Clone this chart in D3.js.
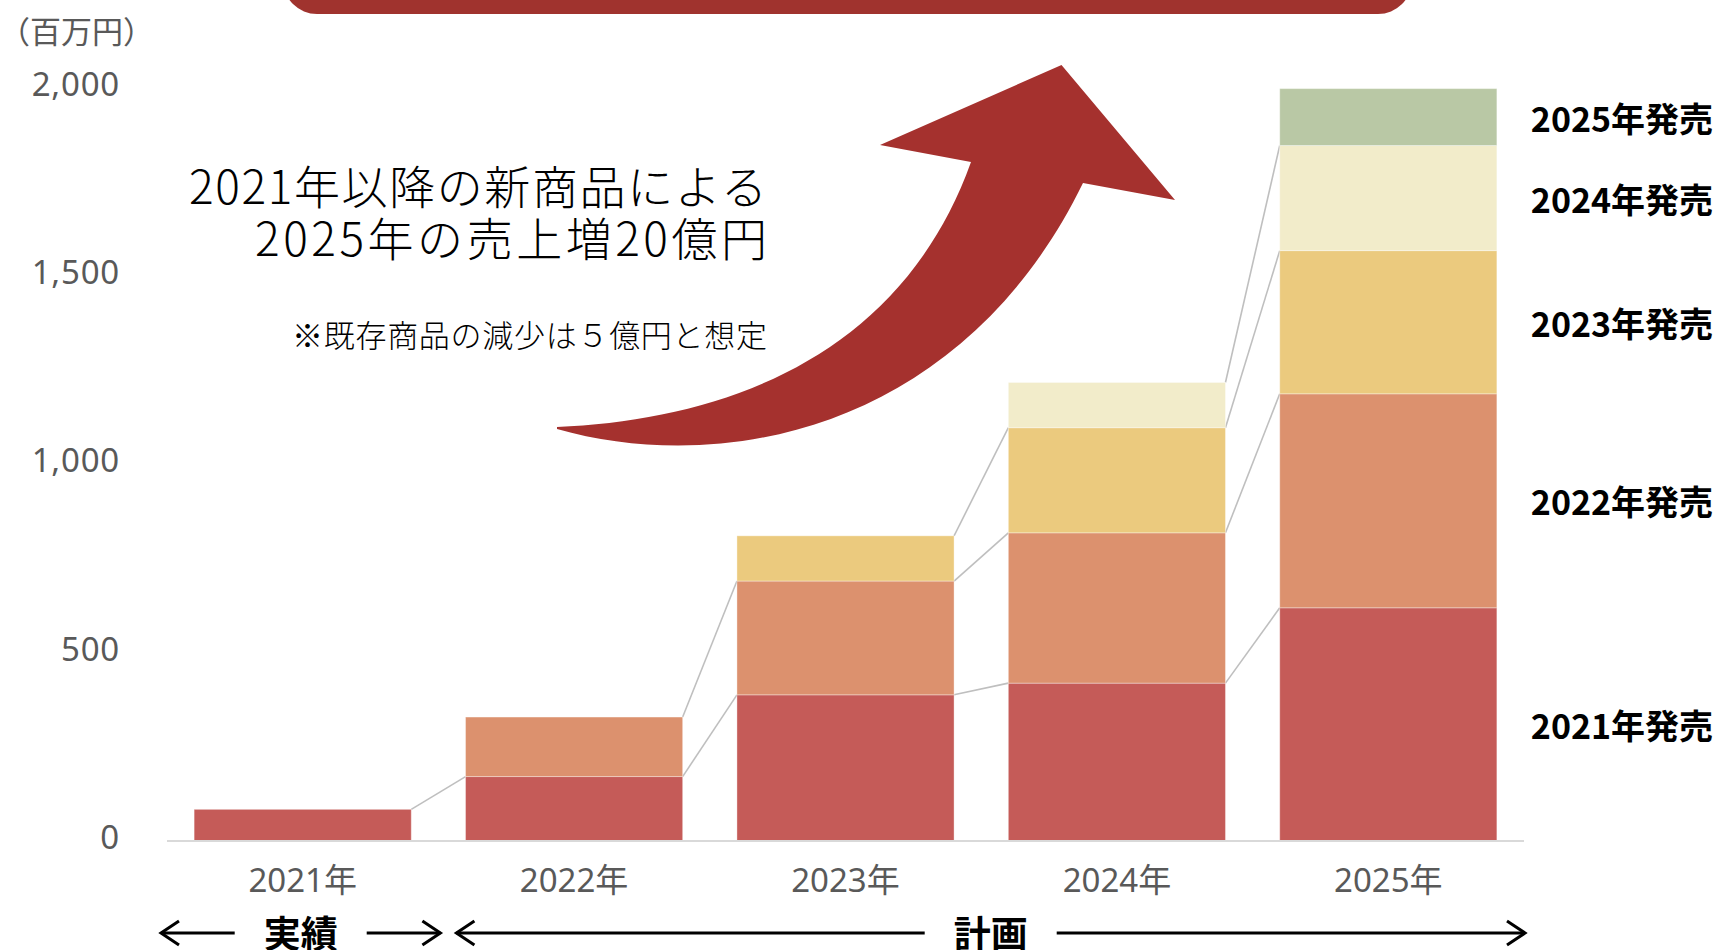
<!DOCTYPE html>
<html>
	<head>
		<meta charset="utf-8">
		<title>新商品売上計画</title>
		<style>
			body, html { margin: 0; padding: 0; background: #fff; }
			svg { display: block; }
		</style>
	</head>
	<body>

		<svg id="svg" width="1716" height="950"></svg>

		<script src="https://cdn.jsdelivr.net/npm/d3@7"></script>
		<script>
			// Data (百万円)
			const years = ['2021年', '2022年', '2023年', '2024年', '2025年']
			const seriesNames = ['2021年発売', '2022年発売', '2023年発売', '2024年発売', '2025年発売']
			const launch2021 = [84, 171, 388, 419, 619]
			const launch2022 = [0, 158, 302, 399, 568]
			const launch2023 = [0, 0, 120, 279, 380]
			const launch2024 = [0, 0, 0, 120, 279]
			const launch2025 = [0, 0, 0, 0, 151]
			const yTicks = [0, 500, 1000, 1500, 2000]
			const colors = ['#C55B58', '#DC916E', '#EBCA7E', '#F2ECCA', '#B9C8A5']

			const seriesValues = [launch2021, launch2022, launch2023, launch2024, launch2025]

			// rows for d3.stack
			const rows = years.map((year, i) => {
				const row = { year }
				seriesNames.forEach((s, k) => { row[s] = seriesValues[k][i] })
				return row
			})

			const svg = d3.select('#svg')
			const fontNum = '"Noto Sans", "Noto Sans CJK JP", sans-serif'
			const fontJp = '"Noto Sans CJK JP", "Noto Sans", sans-serif'

			// Scales
			const x = d3.scaleBand()
				.domain(years)
				.range([167, 1524])
				.paddingInner(0.2)
				.paddingOuter(0.1)

			const y = d3.scaleLinear()
				.domain([0, 2000])
				.range([841, 87.5])

			const stacked = d3.stack().keys(seriesNames)(rows)

			// top banner (cut off at top of the page)
			svg.append('rect')
				.attr('x', 283)
				.attr('y', -60)
				.attr('width', 1129)
				.attr('height', 74)
				.attr('rx', 34)
				.attr('fill', '#A0332E')

			// connector lines between bars
			const connectors = []
			stacked.forEach(layer => {
				for (let i = 0; i < years.length - 1; i++) {
					const a = layer[i], b = layer[i + 1]
					if (a[1] - a[0] > 0 && b[1] - b[0] > 0) {
						connectors.push({ x1: x(years[i]) + x.bandwidth(), y1: y(a[1]), x2: x(years[i + 1]), y2: y(b[1]) })
					}
				}
			})
			svg.append('g')
				.selectAll('line')
				.data(connectors)
				.join('line')
				.attr('x1', d => d.x1)
				.attr('y1', d => d.y1)
				.attr('x2', d => d.x2)
				.attr('y2', d => d.y2)
				.attr('stroke', '#BFBFBF')
				.attr('stroke-width', 1.6)

			// stacked bars
			svg.append('g')
				.selectAll('g')
				.data(stacked)
				.join('g')
				.attr('fill', (d, i) => colors[i])
				.selectAll('rect')
				.data(d => d.filter(p => p[1] - p[0] > 0))
				.join('rect')
				.attr('x', d => x(d.data.year))
				.attr('y', d => y(d[1]))
				.attr('width', x.bandwidth())
				.attr('height', d => y(d[0]) - y(d[1]))
				.attr('stroke', '#fff')
				.attr('stroke-opacity', 0.35)
				.attr('stroke-width', 1)

			// x axis line
			svg.append('line')
				.attr('x1', x.range()[0])
				.attr('x2', x.range()[1])
				.attr('y1', y(0))
				.attr('y2', y(0))
				.attr('stroke', '#D9D9D9')
				.attr('stroke-width', 2)

			// y tick labels
			svg.append('g')
				.selectAll('text')
				.data(yTicks)
				.join('text')
				.attr('x', 120)
				.attr('y', d => y(d) + 8)
				.attr('text-anchor', 'end')
				.attr('font-family', fontNum)
				.attr('font-size', 33)
				.attr('letter-spacing', 0.8)
				.attr('fill', '#595959')
				.text(d => d3.format(',')(d))

			// unit
			svg.append('text')
				.attr('x', -1)
				.attr('y', 43)
				.attr('font-family', fontJp)
				.attr('font-size', 31)
				.attr('fill', '#595959')
				.text('（百万円）')

			// x tick labels
			svg.append('g')
				.selectAll('text')
				.data(years)
				.join('text')
				.attr('x', d => x(d) + x.bandwidth() / 2)
				.attr('y', 892)
				.attr('text-anchor', 'middle')
				.attr('font-family', fontNum)
				.attr('font-size', 33)
				.attr('fill', '#595959')
				.text(d => d)

			// series labels at the right of the last bar
			const last = years.length - 1
			svg.append('g')
				.selectAll('text')
				.data(stacked)
				.join('text')
				.attr('x', x(years[last]) + x.bandwidth() + 34)
				.attr('y', d => (y(d[last][0]) + y(d[last][1])) / 2)
				.attr('dominant-baseline', 'central')
				.attr('font-family', fontJp)
				.attr('font-weight', 'bold')
				.attr('font-size', 34)
				.attr('fill', '#000')
				.text(d => d.key)

			// big curved arrow
			svg.append('path')
				.attr('d', 'M557,427 C720,420 900,360 971,162 L880,145 L1061.5,65 L1175,200 L1083,183 C965,425 730,478 557,429 Z')
				.attr('fill', '#A5312E')

			// headline, stretched to the width it has in the original
			const headline = [
				{ text: '2021年以降の新商品による', y: 204, width: 578 },
				{ text: '2025年の売上増20億円', y: 256, width: 512 }
			]
			svg.append('g')
				.selectAll('text')
				.data(headline)
				.join('text')
				.attr('x', d => 767 - d.width)
				.attr('y', d => d.y)
				.attr('textLength', d => d.width)
				.attr('lengthAdjust', 'spacing')
				.attr('font-family', fontJp)
				.attr('font-weight', 300)
				.attr('font-size', 46)
				.attr('fill', '#000')
				.text(d => d.text)

			svg.append('text')
				.attr('x', 292)
				.attr('y', 347)
				.attr('textLength', 475)
				.attr('lengthAdjust', 'spacing')
				.attr('font-family', fontJp)
				.attr('font-weight', 300)
				.attr('font-size', 31)
				.attr('fill', '#000')
				.text('※既存商品の減少は５億円と想定')

			// period arrows (実績 / 計画)
			const periods = [
				{ label: '実績', from: x.range()[0] - 6, to: x(years[1]) - x.step() * x.paddingInner() / 2 + 2 },
				{ label: '計画', from: x(years[1]) - x.step() * x.paddingInner() / 2 + 18, to: x.range()[1] + 1 }
			]
			const arrowY = 933
			const pg = svg.append('g')
			periods.forEach(p => {
				const c = (p.from + p.to) / 2
				const gap = 66
				pg.append('text')
					.attr('x', c)
					.attr('y', 948)
					.attr('text-anchor', 'middle')
					.attr('font-family', fontJp)
					.attr('font-weight', 'bold')
					.attr('font-size', 37)
					.attr('fill', '#000')
					.text(p.label)
				const segs = [[p.from, c - gap, -1], [c + gap, p.to, 1]]
				segs.forEach(([a, b, dir]) => {
					pg.append('line')
						.attr('x1', a).attr('x2', b)
						.attr('y1', arrowY).attr('y2', arrowY)
						.attr('stroke', '#000').attr('stroke-width', 3)
					const tip = dir < 0 ? a : b
					pg.append('path')
						.attr('d', `M${tip - dir * 18},${arrowY - 12} L${tip},${arrowY} L${tip - dir * 18},${arrowY + 12}`)
						.attr('fill', 'none')
						.attr('stroke', '#000')
						.attr('stroke-width', 3)
				})
			})
		</script>
	</body>
</html>
